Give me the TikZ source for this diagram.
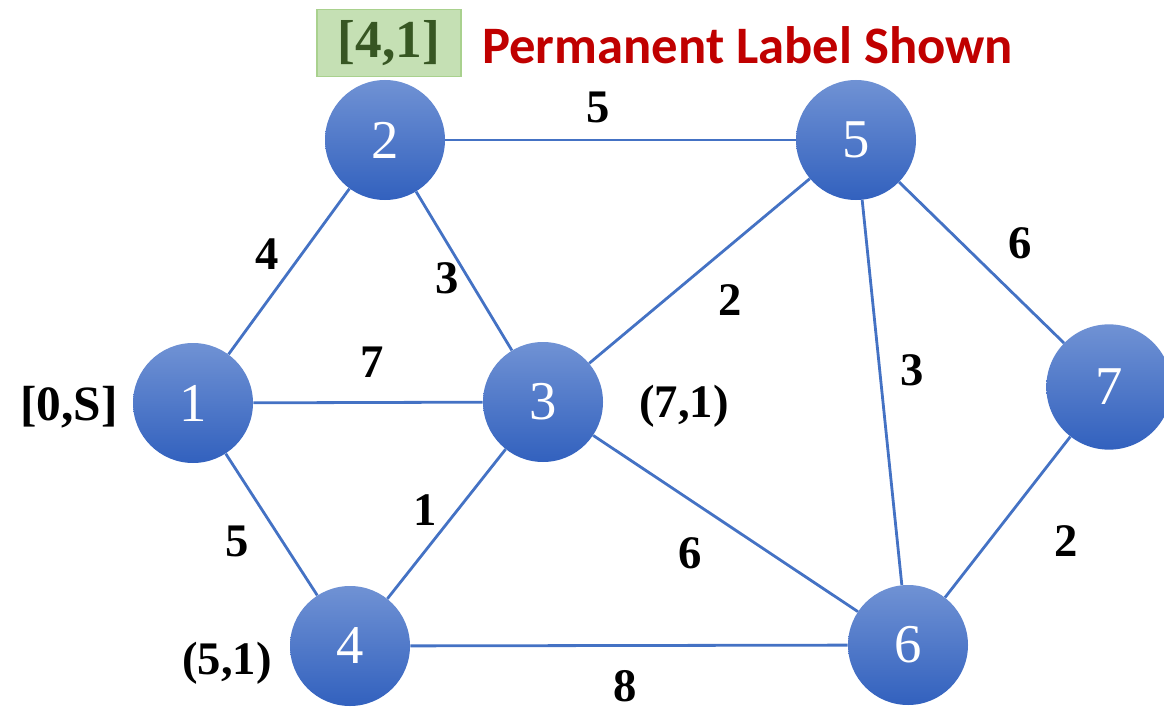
\documentclass[tikz,border=0pt]{standalone}
\usepackage{fontspec}
\setmainfont{Liberation Serif}
\newfontfamily\calibri{Carlito}
\definecolor{vtxtop}{RGB}{112,146,212}
\definecolor{vtxbot}{RGB}{50,97,190}
\definecolor{edgeblue}{RGB}{68,114,196}
\definecolor{boxfill}{RGB}{197,224,180}
\definecolor{boxedge}{RGB}{169,209,142}
\definecolor{boxtext}{RGB}{55,86,35}
\definecolor{titlered}{RGB}{192,0,0}

\begin{document}
\begin{tikzpicture}[x=0.75pt,y=-0.75pt]
\tikzstyle{vtx}=[circle,minimum size=90pt,inner sep=0pt,top color=vtxtop,bottom color=vtxbot,text=white,font=\fontsize{41}{41}\selectfont]
\tikzstyle{wt}=[inner sep=0pt,font=\bfseries\fontsize{35}{35}\selectfont]
\tikzstyle{arc}=[draw=edgeblue,line width=2.1pt]
\useasboundingbox (0,0) rectangle (1164,710);
\node[vtx] (n1) at (193,403) {1};
\node[vtx] (n2) at (385,140) {2};
\node[vtx] (n3) at (543,402) {3};
\node[vtx] (n4) at (350,646) {4};
\node[vtx] (n5) at (856,140) {5};
\node[vtx] (n6) at (908,645) {6};
\node[vtx,minimum size=94pt] (n7) at (1109,387) {7};
\draw[arc] (n1) -- (n2);
\draw[arc] (n1) -- (n3);
\draw[arc] (n1) -- (n4);
\draw[arc] (n2) -- (n3);
\draw[arc] (n2) -- (n5);
\draw[arc] (n3) -- (n4);
\draw[arc] (n3) -- (n5);
\draw[arc] (n3) -- (n6);
\draw[arc] (n4) -- (n6);
\draw[arc] (n5) -- (n6);
\draw[arc] (n5) -- (n7);
\draw[arc] (n6) -- (n7);
\node[wt] (w25) at (598,107) {5};
\node[wt] (w12) at (267,254) {4};
\node[wt] (w23) at (447,278) {3};
\node[wt] (w13) at (372,362) {7};
\node[wt] (w35) at (730,300) {2};
\node[wt] (w57) at (1020,243) {6};
\node[wt] (w56) at (912,370) {3};
\node[wt] (w34) at (425,510) {1};
\node[wt] (w14) at (237,541) {5};
\node[wt] (w36) at (690,553) {6};
\node[wt] (w67) at (1066,541) {2};
\node[wt] (w46) at (625,686) {8};
\node[wt] (l3) at (684,406) {(7,1)};
\node[wt] (l4) at (227,663) {(5,1)};
\node[wt,font=\bfseries\fontsize{37}{37}\selectfont] (l1) at (69,407) {[0,S]};
\node[draw=boxedge,line width=1pt,fill=boxfill,minimum width=108pt,minimum height=50pt,text=boxtext,font=\bfseries\fontsize{40}{40}\selectfont] (perm) at (389,43) {[4,1]};
\node[anchor=west,inner sep=0pt,text=titlered,font=\calibri\bfseries\fontsize{39.5}{39.5}\selectfont] (title) at (482,45) {Permanent Label Shown};
\end{tikzpicture}
\end{document}
